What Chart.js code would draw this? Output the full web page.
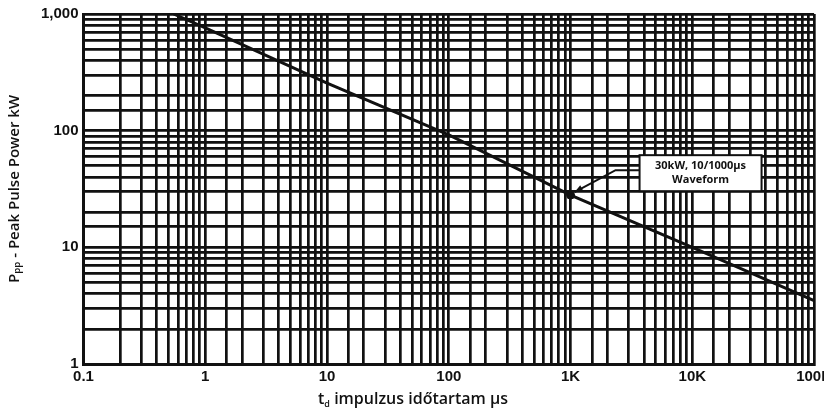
<!DOCTYPE html>
<html>
<head>
<meta charset="utf-8">
<script src="https://cdn.jsdelivr.net/npm/chart.js@4/dist/chart.umd.min.js"></script>
<style>
  html, body { margin: 0; padding: 0; background: #fff; overflow: hidden; }
  #wrap { position: relative; width: 836px; height: 410px; }
</style>
</head>
<body>
<div id="wrap"><canvas id="pulseChart"></canvas></div>
<script>
// impulzus időtartam (µs) és csúcsteljesítmény (kW)
const pulseTimes = [0.55, 1, 10, 100, 1000, 10000, 100000];
const peakPower = [1000, 760, 255, 92, 28, 10, 3.5];
const markerPoint = [{ x: 1000, y: 28 }];
const markerText = ['30kW, 10/1000µs', 'Waveform'];
const xTickLabels = { 0.1: '0.1', 1: '1', 10: '10', 100: '100', 1000: '1K', 10000: '10K', 100000: '100K' };
const yTickLabels = { 1: '1', 10: '10', 100: '100', 1000: '1,000' };

const ink = '#111';

// doboz + nyíl a jelölt ponthoz, és az x tengely címe alsó indexszel
const calloutPlugin = {
    id: 'callout',
    afterDraw(chart) {
        const { ctx, scales } = chart;
        const px = scales.x.getPixelForValue(markerPoint[0].x);
        const py = scales.y.getPixelForValue(markerPoint[0].y);
        ctx.save();
        // doboz
        const bx = px + 69, by = py - 40, bw = 122, bh = 36;
        ctx.fillStyle = '#fff';
        ctx.fillRect(bx, by, bw, bh);
        ctx.strokeStyle = ink;
        ctx.lineWidth = 2;
        ctx.strokeRect(bx, by, bw, bh);
        ctx.fillStyle = ink;
        ctx.font = 'bold 11px "Open Sans", sans-serif';
        ctx.textAlign = 'center';
        ctx.textBaseline = 'middle';
        ctx.fillText(markerText[0], bx + bw / 2, by + 11);
        ctx.fillText(markerText[1], bx + bw / 2, by + 25);
        // nyíl
        const tipX = px + 4, tipY = py - 3;
        ctx.beginPath();
        ctx.moveTo(bx, by + 15);
        ctx.lineTo(bx - 24, by + 15);
        ctx.lineTo(tipX, tipY);
        ctx.stroke();
        const ang = Math.atan2(tipY - (by + 15), tipX - (bx - 24));
        ctx.beginPath();
        ctx.moveTo(tipX, tipY);
        ctx.lineTo(tipX - 9 * Math.cos(ang - 0.4), tipY - 9 * Math.sin(ang - 0.4));
        ctx.lineTo(tipX - 9 * Math.cos(ang + 0.4), tipY - 9 * Math.sin(ang + 0.4));
        ctx.closePath();
        ctx.fill();

        // x tengely címe: t_d impulzus időtartam µs
        const cx = 413, cy = chart.height - 12;
        ctx.textAlign = 'left';
        ctx.textBaseline = 'alphabetic';
        ctx.font = '600 16px "Open Sans", sans-serif';
        const rest = ' impulzus időtartam µs';
        const wT = ctx.measureText('t').width;
        ctx.font = '600 9px "Open Sans", sans-serif';
        const wD = ctx.measureText('d').width;
        ctx.font = '600 16px "Open Sans", sans-serif';
        const wR = ctx.measureText(rest).width;
        let x0 = cx - (wT + wD + wR) / 2;
        ctx.fillText('t', x0, cy + 6);
        ctx.font = '600 9px "Open Sans", sans-serif';
        ctx.fillText('d', x0 + wT, cy + 9);
        ctx.font = '600 16px "Open Sans", sans-serif';
        ctx.fillText(rest, x0 + wT + wD, cy + 6);
        ctx.restore();
    }
};

const ctx = document.getElementById('pulseChart').getContext('2d');
new Chart(ctx, {
    type: 'line',
    data: {
        datasets: [
            {
                data: pulseTimes.map((t, i) => ({ x: t, y: peakPower[i] })),
                borderColor: ink,
                borderWidth: 3,
                pointRadius: 0,
                tension: 0
            },
            {
                data: markerPoint,
                showLine: false,
                pointRadius: 4,
                pointBackgroundColor: ink,
                pointBorderColor: ink
            }
        ]
    },
    options: {
        responsive: true,
        maintainAspectRatio: false,
        animation: false,
        layout: { padding: { left: 2, top: 9, right: 0, bottom: 0 } },
        plugins: {
            legend: { display: false },
            tooltip: { enabled: false }
        },
        scales: {
            x: {
                type: 'logarithmic',
                min: 0.1,
                max: 100000,
                border: { color: ink, width: 3 },
                grid: { color: ink, lineWidth: 2.7, drawTicks: false },
                ticks: {
                    autoSkip: false,
                    maxRotation: 0,
                    padding: 4,
                    color: ink,
                    font: { family: 'Liberation Sans', size: 15, weight: 'bold' },
                    callback: (v) => xTickLabels[v] ?? ''
                },
                title: {
                    display: true,
                    text: 'td impulzus időtartam µs',
                    color: 'transparent',
                    font: { family: 'Open Sans', size: 15 },
                    padding: { top: 0, bottom: 2 }
                }
            },
            y: {
                type: 'logarithmic',
                min: 1,
                max: 1000,
                border: { color: ink, width: 3 },
                grid: { color: ink, lineWidth: 2.7, drawTicks: false },
                ticks: {
                    autoSkip: false,
                    padding: 5,
                    color: ink,
                    font: { family: 'Liberation Sans', size: 15, weight: 'bold' },
                    callback: (v) => yTickLabels[v] ?? ''
                },
                title: {
                    display: true,
                    text: 'Pₚₚ - Peak Pulse Power kW',
                    color: ink,
                    font: { family: 'Open Sans', size: 15, weight: '600' },
                    padding: { top: 4, bottom: 12 }
                }
            }
        }
    },
    plugins: [calloutPlugin]
});
</script>
</body>
</html>
